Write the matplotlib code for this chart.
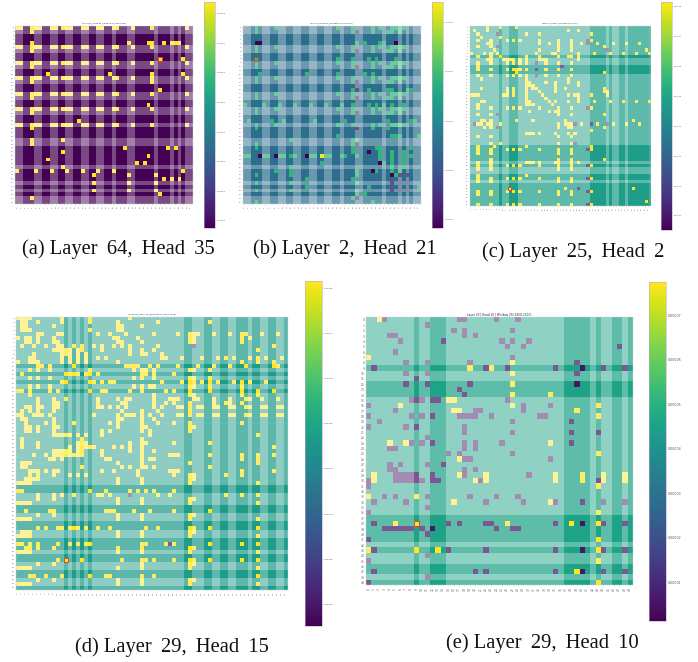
import numpy as np
import matplotlib
matplotlib.use("Agg")
import matplotlib.pyplot as plt
from matplotlib.patches import Rectangle

W, H = 698, 662

# bands that are shared by rows and columns
ab_dark = [2, 3, 4, 7, 8, 11, 12, 15, 16, 19, 20, 23, 24, 26, 27, 28, 31, 32, 33, 34, 35, 37, 38, 39, 41, 43]
c_dark = [9, 12, 13, 14, 37, 38, 39, 40, 41, 43, 46, 47, 49, 50, 51, 52, 53, 54, 55]
d_dark = [12, 14, 16, 18, 42, 43, 47, 48, 51, 52, 55, 56, 57, 59, 60, 63, 64, 67]
e_dark = [9, 12, 13, 14, 37, 38, 39, 40, 41, 43, 46, 47, 49]

# --- panel a
a_row = [0, 1, 4, 5, 6, 9, 10, 12, 13, 14, 17, 18, 21, 22, 25, 26, 30, 35, 44]
a_hot = [
    (0, a_row), (1, [4]), (4, [4, 29, 34, 35, 38, 40, 41, 42]), (5, a_row), (6, [4]),
    (8, [37, 43]), (9, a_row), (10, [4]), (12, [8, 24, 35, 43]), (13, a_row), (14, [4, 35]),
    (16, [37]), (17, a_row), (18, [4]), (20, [34]), (21, a_row), (22, [4]), (24, [16]),
    (25, a_row), (26, [4]), (29, [4, 12]), (30, [4]), (31, [28, 39, 41]), (32, [12]), (33, [34]),
    (34, [8]), (35, [31, 33]), (36, [12]), (37, [0, 5, 9, 13, 17, 21, 25, 43]),
    (38, [20, 29, 36]), (39, [38, 40, 42]), (40, [20, 29, 36]), (42, [20, 29, 36]),
    (43, [37]), (44, [4]),
]

# --- panel b
b_row1 = [3, 8, 24, 28, 33, 35, 38, 39, 40, 41]
b_row2 = [3, 28, 33, 37, 38, 40]
b_green = [
    (0, b_row1), (1, b_row2), (4, [29, 31, 35, 36]), (5, b_row1), (6, b_row2),
    (8, [3, 24, 28, 32, 34, 39]), (9, b_row1), (10, b_row2), (12, [4, 16, 24, 31, 33]),
    (13, b_row1), (14, b_row2), (16, [28, 32, 37, 38, 42, 43]), (17, b_row1), (18, b_row2),
    (20, [0, 5, 9, 13, 17, 21, 25, 28, 32, 34, 36, 38, 41]), (21, b_row1), (22, b_row2),
    (24, [1, 7, 10, 18, 26, 37, 43, 44]), (25, b_row1), (26, [3, 33, 37]),
    (28, [24, 38, 39, 40, 45]), (29, [12, 28, 29]), (30, [3, 28]), (31, [3, 28, 34, 35, 43]),
    (32, [28, 35, 38, 41]), (33, [0, 1, 5, 6, 9, 10, 12, 13, 17, 18, 21, 22, 25, 26, 29, 35, 38, 41, 43]),
    (34, [35, 38, 41]), (35, [20, 36, 38, 41]), (36, [12, 38, 41]), (37, [8, 12, 29, 34, 38, 40]),
    (38, [3, 12, 29, 39]), (39, [16, 28]), (40, [3, 12, 29]), (41, [16, 32, 45]),
    (42, [3, 12, 29]), (43, [31, 29]), (44, [28]), (45, [3, 33]),
]
b_low = [
    (1, [29]), (4, [3, 4, 39]), (6, [29]), (10, [29]), (14, [29]), (16, [29]), (18, [29]), (22, [29]),
    (26, [29]), (30, [29]), (32, [32]), (33, [4, 8, 16]), (35, [35]), (37, [33]),
    (38, [38, 40, 42]), (40, [38, 40, 42]), (42, [38, 40, 42]), (44, [29]),
]
b_hot = [(33, [20])]

# --- panel c
c_hot = [
    (0, [5, 9, 14]), (1, [1, 5, 30, 33]), (2, [2, 17, 21, 37]), (3, [3, 9]),
    (4, [2, 6, 11, 13, 15, 21, 27, 31, 37]), (5, [5, 6, 21, 24, 27, 31, 34, 39, 44, 48, 52]),
    (6, [2, 6, 27, 31, 41]), (7, [7, 21, 27, 31, 54]), (8, [0, 4, 6, 8, 20, 25, 26, 33, 38, 43, 47, 51, 55]),
    (9, [2, 6, 9, 17, 21, 27, 30, 31, 33]), (10, [5, 6, 10, 11, 12, 13, 15, 17, 21, 22, 23, 33]),
    (11, [2, 6, 11, 13, 15, 17, 23, 27, 31]), (12, [2]), (13, [2, 6, 11, 13, 14, 15, 17, 23, 27, 31]),
    (14, [14, 41]), (15, [2, 6, 11, 13, 15, 17, 23, 27, 31]), (16, [3, 17, 30]),
    (17, [17, 18, 23, 26, 30, 33]), (18, [17, 18, 19, 26, 33]), (19, [3, 11, 13, 17, 19, 20, 26, 29, 41]),
    (20, [11, 13, 17, 21, 26, 41, 42]), (21, [0, 1, 2, 10, 11, 13, 17, 22, 30, 32, 33, 37, 42]),
    (22, [17, 23, 33]), (23, [3, 4, 17, 18, 24, 26, 30, 33, 38, 43, 47, 51, 55]), (24, [2, 17, 18, 19, 25]),
    (25, [2, 6, 11, 13, 15, 21, 27, 31, 37]), (26, [18, 24, 26, 27]), (27, [2, 6, 27, 31, 41]),
    (29, [3, 4, 6, 14, 19, 29, 50]), (30, [2, 3, 5, 6, 9, 27, 29, 30, 31, 34, 39, 44, 48, 52]),
    (31, [4, 6, 27, 30, 31, 41]), (32, [37]), (33, [17, 18, 19, 21, 26, 30, 32]), (34, [2, 6, 27, 31]),
    (36, [6, 9, 27, 31]), (37, [2, 7, 17, 37]), (38, [2, 6, 11, 13, 15, 21, 27, 31, 37]), (39, [2, 6, 27, 31]),
    (41, [6, 27, 31, 41]), (42, [2, 6, 17, 18, 19, 21, 26, 27, 31, 33]),
    (43, [2, 6, 11, 13, 15, 21, 27, 31, 37]), (44, [2, 6, 27, 31]), (46, [2, 17]),
    (47, [2, 6, 11, 13, 15, 21, 27, 31, 37]), (48, [2, 6, 27, 31]), (50, [12, 29, 50]),
    (51, [2, 6, 11, 13, 15, 21, 27, 31, 37]), (52, [2, 6, 27, 31]), (54, [54]),
    (55, [2, 6, 11, 13, 15, 21, 27, 31, 37]),
]
c_low = [
    (2, [8]), (4, [36]), (5, [36]), (6, [8]), (7, [42]), (11, [20]), (12, [28]), (13, [20]), (15, [20]),
    (25, [36]), (27, [8]), (30, [1, 32, 37, 42]), (31, [8]), (36, [32]), (38, [36]), (43, [36]),
    (47, [36]), (50, [33]), (51, [36]), (55, [36]),
]

# --- panel d
d_hot = [
    (0, [0, 1, 2, 3, 11, 18, 28]), (1, [1, 2, 5, 11, 18, 25, 35, 48]), (2, [1, 2, 9, 25, 26, 31]),
    (3, [1, 2, 3, 18, 25, 26]), (4, [5, 6, 10, 11, 20, 23, 27, 34, 40, 43, 44, 45, 49, 53, 56, 57, 61, 65]),
    (5, [0, 2, 3, 5, 9, 24, 25, 30, 43, 44, 56, 58]), (6, [2, 3, 5, 9, 10, 25, 26, 31, 43, 44, 56]),
    (7, [1, 4, 7, 10, 11, 14, 16, 19, 21, 24, 26, 28, 35, 64]),
    (8, [9, 10, 11, 12, 13, 15, 16, 21, 28, 31, 34, 60]), (9, [4, 11, 12, 13, 15, 17, 28, 31, 32, 36]),
    (10, [3, 4, 11, 13, 15, 17, 20, 22, 36, 37, 41, 46, 50, 52, 54, 58, 60, 62, 66]),
    (11, [0, 3, 4, 5, 11, 13, 15, 17, 25, 56, 60, 64]),
    (12, [5, 6, 8, 14, 27, 28, 29, 30, 33, 35, 40, 45, 49, 53, 57, 64, 65]),
    (13, [3, 5, 8, 18, 29, 31, 32, 34, 43, 44, 48]), (14, [1, 12, 13, 14, 15, 17, 18, 20, 31, 32, 34, 39]),
    (15, [3, 5, 8, 29, 31, 34, 43, 44, 48]),
    (16, [11, 12, 18, 19, 21, 23, 24, 36, 41, 43, 44, 46, 48, 50, 54, 56, 58, 62]),
    (17, [3, 5, 8, 29, 31, 33, 34, 43, 44, 48, 56]),
    (18, [0, 1, 3, 8, 10, 18, 21, 22, 28, 31, 37, 39, 43, 48, 56, 60, 64]), (19, [3, 34, 43, 44, 56, 60]),
    (20, [5, 9, 12, 20, 25, 27, 28, 34, 38, 39, 40, 44, 45, 49, 53, 57, 58, 61, 65]),
    (21, [5, 9, 10, 20, 26, 27, 34, 37, 39, 43, 49, 52, 53, 56]),
    (22, [2, 3, 5, 6, 9, 10, 20, 21, 23, 25, 27, 34, 36, 40, 41, 43, 45, 46, 49, 50, 53, 54, 57, 58, 61, 62, 65, 66]),
    (23, [1, 3, 5, 9, 26, 31, 35, 43]),
    (24, [0, 1, 4, 5, 6, 8, 19, 25, 27, 28, 29, 31, 33, 36, 40, 41, 43, 45, 46, 49, 50, 53, 54, 57, 58, 61, 62, 65, 66]),
    (25, [1, 2, 9, 25, 26, 31, 34]), (26, [2, 7, 9, 14, 23, 25, 31, 35, 39, 43, 56]),
    (27, [2, 3, 5, 9, 10, 25, 31, 32, 43, 44]), (28, [2, 3, 5, 9, 21, 23, 31, 33, 43]),
    (29, [9, 10, 11, 12, 13, 15, 17, 21, 33, 60]), (30, [1, 16, 31]), (31, [1, 5, 15, 16, 17, 28, 31, 32, 39, 48]),
    (32, [1, 5, 13, 15, 16, 17, 18, 19, 24, 26, 28, 31, 64]), (33, [9, 10, 11, 12, 13, 15, 16, 21, 28, 31, 34]),
    (34, [4, 7, 9, 10, 11, 12, 13, 14, 15, 16, 21, 31, 38, 39, 40, 48, 56, 60, 64]),
    (35, [8, 9, 11, 22, 23, 31, 33, 34, 56, 60]), (36, [1, 2, 3, 25, 31, 43, 60]),
    (37, [1, 2, 16, 26, 28, 31, 32, 34, 48]),
    (38, [3, 4, 5, 7, 9, 10, 21, 24, 30, 38, 39, 40, 56, 64]),
    (39, [3, 5, 9, 13, 15, 17, 30, 39, 43, 44, 52, 56]), (40, [2, 3, 4, 5, 25, 31, 43, 44]),
    (41, [0, 1, 2, 3, 25, 31, 43, 60]), (43, [0, 1, 18, 22, 28, 30, 32, 34, 39]),
    (44, [5, 9, 11, 14, 20, 21, 23, 35, 38, 52, 56, 60]),
    (45, [5, 9, 25, 31, 43, 44]), (46, [0, 1, 2, 3, 25, 31, 43, 60]),
    (48, [2, 8, 9, 22, 23, 24, 29, 33, 39, 48]), (49, [5, 9, 25, 31, 43, 44]),
    (50, [0, 1, 2, 3, 25, 31, 43, 60]), (52, [5, 7, 10, 11, 13, 14, 15, 17, 20, 23, 32, 35, 43, 44, 48, 60]),
    (53, [1, 2, 3, 25, 31, 43, 44]), (54, [0, 1, 2, 3, 25, 31, 43, 60]),
    (56, [0, 1, 3, 5, 10, 13, 15, 17, 18, 31, 32, 37, 39, 48, 56, 60]),
    (57, [2, 3, 5, 9, 25, 31, 43, 44]), (58, [0, 1, 2, 3, 25, 31, 43, 60]),
    (60, [10, 12, 16, 26, 31, 32, 34, 39, 43, 44, 48, 56, 60]), (61, [5, 9, 31, 43, 44]),
    (62, [0, 1, 2, 3, 25, 31, 43, 60]), (64, [3, 4, 7, 11, 18, 22, 23, 31, 34, 60]), (65, [5, 9, 25, 31, 43, 44]),
    (66, [0, 1, 2, 3, 25, 31, 43, 60]),
]
d_low = [(7, [44]), (44, [28]), (56, [38])]

# --- panel e
e_hot = [
    (0, [2]), (7, [0]), (8, [27]), (9, [19, 23]), (10, [27]), (12, [27]), (14, [27, 34]), (15, [15, 16]),
    (16, [6, 27, 43]), (17, [16, 17, 39]), (18, [43]), (23, [4, 7, 34]), (25, [43]), (26, [17]),
    (29, [1, 17, 22, 35, 40, 44, 48]), (30, [1, 20, 22, 35, 40, 44, 48]), (31, [43]), (33, [0, 9]),
    (34, [16, 34]), (36, [43]), (38, [5, 9, 26, 38, 43]), (41, [43]), (43, [0, 9, 13, 43]), (45, [43]),
    (47, [39]), (49, [43]),
]
e_low = [
    (0, [3, 17, 18, 24, 28]), (1, [11]), (2, [16, 18, 27]), (3, [4, 5, 18, 20]), (4, [6, 14, 25, 27, 30]),
    (5, [26, 29, 47]), (6, [5]), (7, [27]), (8, [7, 11, 19, 39]),
    (9, [1, 22, 26, 35, 40, 44, 48]), (10, [7, 11, 39]), (11, [9]), (12, [7, 11, 19, 39]), (13, [17]),
    (14, [18]), (15, [8, 9, 10, 12, 13, 26]), (16, [0, 29, 34]), (17, [5, 20, 21, 29]),
    (18, [0, 8, 10, 12, 17, 18, 19, 20, 23, 32, 33]), (19, [2, 27, 38]), (20, [0, 7, 9, 18]),
    (21, [18, 27, 38, 43]), (22, [11]), (23, [8, 10, 12, 18, 20, 25, 38]), (24, [4, 5, 18, 20]),
    (25, [15, 17, 27]), (26, [18, 19, 34]), (27, [4, 6, 11, 14]), (28, [4, 5, 18, 20]),
    (29, [5, 6, 7, 8, 9, 12, 18, 30]), (30, [0, 5, 6, 7, 8, 9, 10, 12, 13, 21, 43]), (31, [0]),
    (33, [3, 5, 11, 19, 24, 28]), (34, [1, 7, 22, 29, 35, 40, 44, 48]), (35, [11]), (36, [0]),
    (38, [1, 15, 17, 22, 23, 35, 40, 44, 48]), (39, [3, 4, 5, 6, 7, 8, 10, 12, 24, 27, 28]), (40, [11]),
    (41, [0]), (43, [1, 15, 22, 35, 40, 44, 48]), (44, [11]), (45, [0]), (47, [1, 20, 22, 35, 40, 44, 48]),
    (48, [11]), (49, [0]),
]

# value scale of each colorbar
a_range = (0.0000077, 0.0000839)
b_range = (0.0000184, 0.0000642)
c_range = (0.0000053, 0.0000816)
d_range = (0.0000053, 0.0000816)
e_range = (0.0000012, 0.0000775)
a_ticks = [0.00001, 0.00002, 0.00003, 0.00004, 0.00005, 0.00006, 0.00007, 0.00008]
b_ticks = [0.00002, 0.00003, 0.00004, 0.00005, 0.00006]
c_ticks = [0.00001, 0.00002, 0.00003, 0.00004, 0.00005, 0.00006, 0.00007, 0.00008]
d_ticks = [0.00001, 0.00002, 0.00003, 0.00004, 0.00005, 0.00006, 0.00007, 0.00008]
e_ticks = [0.00001, 0.00002, 0.00003, 0.00004, 0.00005, 0.00006, 0.00007]

# background cell value per panel
a_bg, b_bg, c_bg, d_bg, e_bg = 0.0000077, 0.0000349, 0.0000480, 0.0000473, 0.0000455
b_mid = 0.0000486
low_val = 0.0000058

ALPHA_BOTH = 1.0
ALPHA_ONE = 0.72
ALPHA_NONE = 0.5

fig = plt.figure(figsize=(W / 100, H / 100), dpi=100, facecolor="white")


def px_axes(x0, y0, x1, y1):
    return fig.add_axes([x0 / W, 1 - y1 / H, (x1 - x0) / W, (y1 - y0) / H])


def put(mat, cells, val):
    for r, cols in cells:
        for c in cols:
            mat[r, c] = val


def draw_panel(n, dark, layers, bg, vrange, ticks, box, cbar_box, title, mark, caption, cap_xy, fs):
    mat = np.full((n, n), bg, dtype=float)
    for cells, val in layers:
        put(mat, cells, val)
    flag = np.zeros(n)
    flag[dark] = 1
    both = flag[:, None] + flag[None, :]
    alpha = np.choose(both.astype(int), [ALPHA_NONE, ALPHA_ONE, ALPHA_BOTH])

    ax = px_axes(*box)
    im = ax.imshow(mat, cmap="viridis", vmin=vrange[0], vmax=vrange[1], alpha=alpha,
                   aspect="auto", interpolation="nearest")
    ax.add_patch(Rectangle((mark[1] - 0.5, mark[0] - 0.5), 1, 1, fill=False, ec="#e0452a", lw=0.7))
    ax.set_xticks(range(n))
    ax.set_yticks(range(n))
    ax.set_xticklabels(range(n), rotation=90, va="center")
    ax.set_yticklabels(range(n), rotation=0)
    ax.tick_params(labelsize=fs, length=0.5, width=0.2, colors="#666666")
    ax.tick_params(axis="x", pad=fs * 1.1)
    ax.tick_params(axis="y", pad=0.5)
    for sp in ax.spines.values():
        sp.set_linewidth(0.3)
        sp.set_color("#cfd8dc")
    ax.set_title(title, fontsize=fs * 0.95, pad=1.2, color="#222222")

    cax = px_axes(*cbar_box)
    sm = plt.cm.ScalarMappable(norm=im.norm, cmap="viridis")
    cb = fig.colorbar(sm, cax=cax, ticks=ticks, format="%.5f")
    cb.ax.tick_params(labelsize=fs * 1.05, length=0.8, width=0.2, pad=0.6, colors="#555555")
    cb.outline.set_linewidth(0.4)
    cb.outline.set_edgecolor("#b9a9c9")

    fig.text(cap_xy[0] / W, 1 - cap_xy[1] / H, caption, ha="center", va="center",
             family="Liberation Serif", fontsize=14.8, color="#111111")


draw_panel(46, ab_dark, [(a_hot, a_range[1])], a_bg, a_range, a_ticks,
           (15.3, 26, 192.7, 204), (204, 2, 215.3, 227.7),
           "Layer 64 | Head 35 | Window 2 (1000-1050)", (8, 37),
           "(a) Layer\u2009 64,\u2009 Head\u2009 35", (118, 249), 1.55)
draw_panel(46, ab_dark, [(b_green, b_mid), (b_low, b_range[0]), (b_hot, b_range[1])], b_bg, b_range, b_ticks,
           (242.7, 26, 420.7, 204), (432, 2, 443.3, 227.7),
           "Layer 2 | Head 21 | Window 2 (1000-1050)", (8, 3),
           "(b) Layer\u2009 2,\u2009 Head\u2009 21", (345, 249), 1.55)
draw_panel(56, c_dark, [(c_hot, c_range[1]), (c_low, 0.0000120)], c_bg, c_range, c_ticks,
           (469.7, 26, 649.7, 206), (661, 2, 672.3, 230),
           "Layer 25 | Head 2 | Window 14 (700-750)", (50, 12),
           "(c) Layer\u2009 25,\u2009 Head\u2009 2", (573.5, 252), 1.35)
draw_panel(68, d_dark, [(d_hot, d_range[1]), (d_low, 0.0000120)], d_bg, d_range, d_ticks,
           (15.7, 316.7, 287.7, 590), (305, 281, 322.3, 625.7),
           "Layer 29 | Head 15 | Window 15 (1500-1800)", (60, 12),
           "(d) Layer\u2009 29,\u2009 Head\u2009 15", (172, 647), 1.65)
draw_panel(50, e_dark, [(e_hot, e_range[1]), (e_low, low_val)], e_bg, e_range, e_ticks,
           (365.7, 317.3, 632.7, 585.3), (649.3, 281.7, 666, 621.3),
           "Layer 29 | Head 10 | Window 29 (1450-1500)", (38, 9),
           "(e) Layer\u2009 29,\u2009 Head\u2009 10", (542, 643), 2.2)

fig.savefig("out.png", dpi=100)
